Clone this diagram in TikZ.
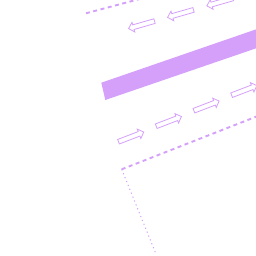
\documentclass[tikz,border=0pt]{standalone}
\usetikzlibrary{shapes.arrows}
\definecolor{lilac}{RGB}{212,160,250}
\tikzset{
  flowarrow/.style={single arrow, draw=lilac, line width=0.8pt, fill=none, inner sep=0pt, inner ysep=2pt, minimum height=27pt, single arrow head extend=2.6pt},
  edgeline/.style={lilac, line width=1.9pt, dash pattern=on 4pt off 3.5pt},
  normalline/.style={lilac, line width=1pt, dash pattern=on 1.2pt off 3pt}
}

\begin{document}
\begin{tikzpicture}[x=1pt, y=-1pt]
  \useasboundingbox (0,0) rectangle (256,256);
  \clip (0,0) rectangle (256,256);
  % upper dashed border
  \coordinate (topA) at (86,13.3);
  \coordinate (topB) at (150,-3.8);
  \draw[edgeline] (topA) -- (topB);
  % returning flow
  \node[flowarrow, rotate=196] (west1) at (142.7,24.5) {};
  \node[flowarrow, rotate=196] (west2) at (181.7,13.3) {};
  \node[flowarrow, rotate=196] (west3) at (221,1.8) {};
  % wall
  \fill[lilac] (101.3,82.7) -- (262,27.3) -- (262,46.3) -- (105.3,100) -- cycle;
  % forward flow
  \node[flowarrow, rotate=21] (east1) at (130,137.3) {};
  \node[flowarrow, rotate=21] (east2) at (167.7,121.8) {};
  \node[flowarrow, rotate=21] (east3) at (205.4,106.3) {};
  \node[flowarrow, rotate=21] (east4) at (243.1,90.8) {};
  % lower dashed border and normal
  \coordinate (corner) at (121.7,169.3);
  \coordinate (lowB) at (262,114.4);
  \coordinate (lowC) at (156,254);
  \draw[edgeline] (corner) -- (lowB);
  \draw[normalline] (corner) -- (lowC);
\end{tikzpicture}
\end{document}
